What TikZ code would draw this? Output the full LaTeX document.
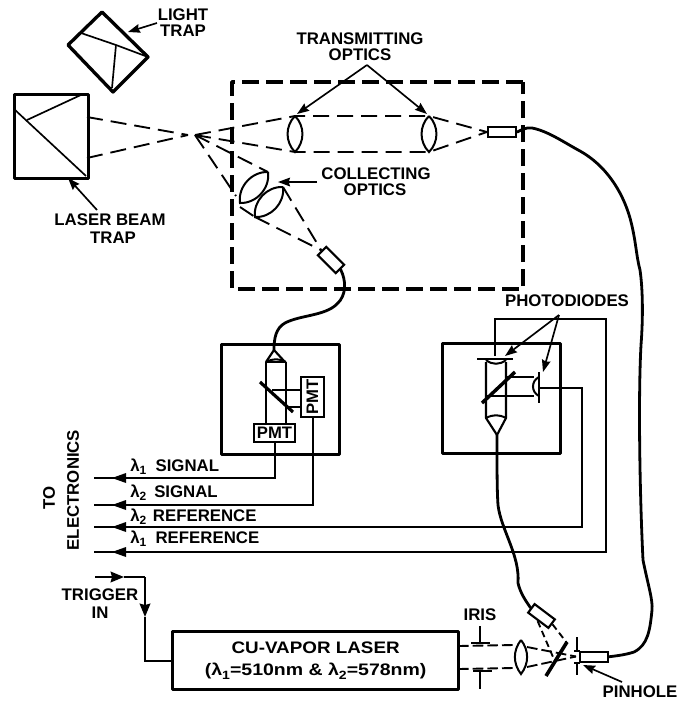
\documentclass[tikz,border=0pt]{standalone}
\usepackage{fontspec}
\setmainfont{Liberation Sans}
\usetikzlibrary{arrows.meta,calc}
\newcommand{\lamb}[1]{λ\raisebox{-2.5pt}{\fontsize{9}{9}\selectfont #1}}
\newcommand{\headL}[1]{\fill (#1) -- ++(14,-5) -- ++(0,10) -- cycle;}
\tikzset{
  lbl/.style={font=\fontsize{12.6}{13}\selectfont\bfseries,inner sep=0pt},
  thick box/.style={draw,line width=2.5pt,inner sep=0pt,line join=round},
  mid box/.style={draw,line width=1.6pt,inner sep=0pt,fill=white},
  thin/.style={line width=1.25pt},
  med/.style={line width=1.6pt,line join=round},
  fibre/.style={line width=2.1pt,line cap=round},
  beam/.style={line width=1.4pt,dash pattern=on 12pt off 6pt},
  ptr/.style={line width=1.25pt,-{Stealth[length=9pt,width=6.5pt,inset=1pt]}},
  wire/.style={line width=1.5pt},
  wiretip/.style={line width=1.5pt,-{Stealth[length=10pt,width=8pt,inset=1pt]}},
  lens/.style={line width=1.5pt},
}
\begin{document}
\begin{tikzpicture}[x=0.75pt,y=-0.75pt]
\useasboundingbox (0,0) rectangle (680,701);
% ----- traps
\node[thick box,minimum width=55.5pt,minimum height=63pt,anchor=north west] (beamtrap) at (13,93) {};
\draw[thin] (14,109) -- (86,176);
\draw[thin] (27,120) -- (83,94);
\coordinate (lt1) at (102,12); \coordinate (lt2) at (148,57); \coordinate (lt3) at (113,92); \coordinate (lt4) at (68,45);
\draw[line width=2.5pt,line join=round] (lt1) -- (lt2) -- (lt3) -- (lt4) -- cycle;
\coordinate (lt5) at (81,33); \coordinate (lt6) at (116,45);
\draw[thin] (lt5) -- (lt6) -- (lt2);
\draw[thin] (lt6) -- (112,88);
% ----- optics box
\draw[line width=2.6pt,dash pattern=on 13pt off 5pt,line join=round] (523,82) -- (232,82) -- (232,289) -- (523,289) -- cycle;
% ----- focal point and beams
\coordinate (focus) at (195,135);
\coordinate (ltop) at (295,116); \coordinate (lbot) at (295,152);
\coordinate (rtop) at (429,116); \coordinate (rbot) at (429,152);
\node[mid box,minimum width=21pt,minimum height=7pt] (fibT) at (502,132) {};
\draw[beam] (87,117) -- (188,135);
\draw[beam] (87,158) -- (188,135);
\draw[beam] (focus) -- (ltop) -- (rtop) -- (fibT.west);
\draw[beam] (focus) -- (lbot) -- (rbot) -- (fibT.west);
\draw[lens] (ltop) to[bend left=45] (lbot) to[bend left=45] (ltop);
\draw[lens] (rtop) to[bend left=45] (rbot) to[bend left=45] (rtop);
% ----- collecting optics
\coordinate (c1a) at (268,172); \coordinate (c1b) at (240,203);
\coordinate (c2a) at (283,187); \coordinate (c2b) at (255,217);
\node[mid box,minimum width=19pt,minimum height=9pt,rotate=-45] (fibC) at (331,260) {};
\draw[beam] (focus) -- (c1a);
\draw[beam] (focus) -- (236,196);
\draw[beam] (c2a) -- (fibC.west);
\draw[beam] (c2b) -- (fibC.west);
\draw[beam] (240,207) -- (c2b);
\draw[lens] (c1a) to[bend left=50] (c1b) to[bend left=50] (c1a);
\draw[lens] (c2a) to[bend left=50] (c2b) to[bend left=50] (c2a);
% ----- left detector box
\node[thick box,minimum width=88.5pt,minimum height=82.5pt,anchor=north west] (detL) at (220,343) {};
\coordinate (ctipL) at (274,350);
\node[mid box,minimum width=31pt,minimum height=14pt] (pmtA) at (274.5,433) {\fontsize{12.5}{12}\selectfont\bfseries PMT};
\node[mid box,minimum width=17pt,minimum height=30pt] (pmtB) at (312.5,397) {\rotatebox{90}{\fontsize{12.5}{12}\selectfont\bfseries PMT}};
\draw[med] (266,362) -- (ctipL) -- (285,362);
\draw[med] (266,362) -- (266,423);
\draw[med] (286,362) -- (286,423);
\draw[lens] (266,362) to[bend left=28] (286,362);
\draw[lens] (266,362) -- (286,362);
\draw[thin] (272,390) -- (pmtB.west |- 0,390);
\draw[thin] (286,407) -- (pmtB.west |- 0,407);
\draw[line width=2.4pt] (260,382) -- (293,412);
% ----- right detector box
\node[thick box,minimum width=88.5pt,minimum height=82.5pt,anchor=north west] (detR) at (441,342) {};
\coordinate (ctipR) at (497,435);
\draw[med] (486,362) -- (486,418) -- (ctipR) -- (506,418) -- (506,362);
\draw[lens] (486,418) to[bend left=28] (506,418);
\draw[line width=1.8pt] (477,359) -- (513,359);
\draw[lens] (486,360) to[bend right=40] (506,360);
\draw[thin] (506,377) -- (534,377);
\draw[thin] (486,396) -- (534,396);
\draw[line width=2.6pt] (482,403) -- (515,372);
\draw[line width=1.8pt] (539,372) -- (539,403);
\draw[lens] (539,377) .. controls (531,381) and (531,392) .. (539,396);
% ----- fibres
\draw[fibre] (fibT.east) .. controls (520,131) and (525,127) .. (532,128)
  .. controls (548,131) and (565,143) .. (580,151)
  .. controls (605,165) and (622,190) .. (630,218)
  .. controls (636,240) and (636,255) .. (640,270)
  .. controls (643,290) and (643,320) .. (641,345)
  .. controls (638,400) and (640,500) .. (643,560)
  .. controls (648,585) and (653,600) .. (652,610)
  .. controls (650,630) and (648,645) .. (634,652)
  .. controls (625,655) and (615,656) .. (607,657);
\draw[fibre] (fibC.east) .. controls (346,280) and (347,295) .. (337,304)
  .. controls (325,316) and (300,315) .. (285,323)
  .. controls (276,328) and (274,338) .. (ctipL);
\node[mid box,minimum width=19pt,minimum height=8pt,rotate=-37] (fibB) at (541.5,616) {};
\draw[fibre] (ctipR) .. controls (497,470) and (497,490) .. (498,505)
  .. controls (501,530) and (520,555) .. (518,583)
  .. controls (520,592) and (525,600) .. (fibB.west);
% ----- output wires
\coordinate (a1) at (112,478); \coordinate (e1) at (94,478);
\coordinate (a2) at (112,505); \coordinate (e2) at (94,505);
\coordinate (a3) at (112,527); \coordinate (e3) at (94,527);
\coordinate (a4) at (112,552); \coordinate (e4) at (94,552);
\draw[wire] (pmtA.south) |- (e1); \headL{a1}
\draw[wire] (pmtB.south) |- (e2); \headL{a2}
\coordinate (pd2) at (539,388);
\draw[wire] (pd2) -- (582,388) |- (e3); \headL{a3}
\coordinate (pd1) at (495,356);
\draw[wire] (pd1) -- (495,319) -- (606,319) |- (e4); \headL{a4}
% ----- laser
\node[thick box,minimum width=214.5pt,minimum height=43.5pt,anchor=north west,align=center,font=\fontsize{12.5}{16.5}\selectfont\bfseries] (laser) at (171,630) {\scalebox{1.13}[1]{CU-VAPOR LASER}\\\scalebox{1.17}[1]{(\lamb{1}=510nm \& \lamb{2}=578nm)}};
\coordinate (trigS) at (95,577); \coordinate (trigA) at (124,577); \coordinate (trigC) at (145,617);
\draw[wiretip] (trigS) -- (trigA);
\draw[wire] (trigA) -- (145,577);
\draw[wiretip] (145,577) -- (trigC);
\draw[wire] (trigC) -- (145,661) -- (171,661);
% ----- bench optics
\coordinate (b1) at (458,646); \coordinate (b2) at (458,669);
\coordinate (blt) at (521,640); \coordinate (blb) at (521,674);
\coordinate (bf) at (576,656.5);
\draw[beam,dash pattern=on 8pt off 3pt] (b1) -- (514,645);
\draw[beam,dash pattern=on 8pt off 3pt] (b2) -- (514,668);
\draw[beam,dash pattern=on 8pt off 3pt] (527,647) -- (bf);
\draw[beam,dash pattern=on 8pt off 3pt] (527,667) -- (bf);
\draw[lens] (blt) to[bend left=38] (blb) to[bend left=38] (blt);
\draw[thin] (480,626) -- (480,643);
\draw[line width=1.7pt] (471,643) -- (490,643);
\draw[line width=1.7pt] (473,671) -- (492,671);
\draw[thin] (480,671) -- (480,689);
\draw[line width=2.7pt] (567,642) -- (546,676);
\draw[beam,dash pattern=on 5pt off 3pt] (fibB.south) -- (553,657);
\draw[beam,dash pattern=on 5pt off 3pt] (fibB.east) -- (567,643);
\node[mid box,minimum width=20.5pt,minimum height=8pt] (fibP) at (594,657) {};
\draw[thin] (577,637) -- (577,651);
\draw[thin] (577,663) -- (577,675);
\draw[thin] (574,651) -- (580,651);
\draw[thin] (574,663) -- (580,663);
% ----- labels
\node[lbl] (tLight) at (183,14.5) {LIGHT};
\node[lbl] (tLtrap) at (183,30.5) {TRAP};
\draw[ptr] (157,23) -- (128,32);
\node[lbl] (tBeam) at (110,220) {LASER BEAM};
\node[lbl] (tBtrap) at (113,238) {TRAP};
\draw[ptr] (97,210) -- (68,178);
\node[lbl] (tTrans) at (360,38.5) {TRANSMITTING};
\node[lbl] (tTopt) at (360,54.5) {OPTICS};
\coordinate (apex) at (367,65);
\draw[ptr] (apex) -- (297,114);
\draw[ptr] (apex) -- (427,114);
\node[lbl] (tColl) at (376,173.5) {COLLECTING};
\node[lbl] (tCopt) at (375,189.5) {OPTICS};
\draw[ptr] (317,182) -- (278,182);
\node[lbl] (tPhoto) at (567,301) {PHOTODIODES};
\coordinate (apexP) at (559,315);
\draw[ptr] (apexP) -- (505,356);
\draw[ptr] (apexP) -- (543,372);
\node[lbl,rotate=90] (tTo) at (49,498) {TO};
\node[lbl,rotate=90] (tElec) at (73,490) {ELECTRONICS};
\node[lbl,anchor=west] (s1) at (130,467) {\lamb{1}\hspace{7pt}SIGNAL};
\node[lbl,anchor=west] (s2) at (130,493) {\lamb{2}\hspace{6pt}SIGNAL};
\node[lbl,anchor=west] (s3) at (130,517) {\lamb{2}\hspace{5pt}REFERENCE};
\node[lbl,anchor=west] (s4) at (130,539) {\lamb{1}\hspace{7pt}REFERENCE};
\node[lbl] (tTrig) at (100,595) {TRIGGER};
\node[lbl] (tIn) at (100,613) {IN};
\node[lbl] (tIris) at (480,615) {IRIS};
\node[lbl] (tPin) at (640,692) {PINHOLE};
\draw[ptr] (622,682) -- (583,665);
\end{tikzpicture}
\end{document}
